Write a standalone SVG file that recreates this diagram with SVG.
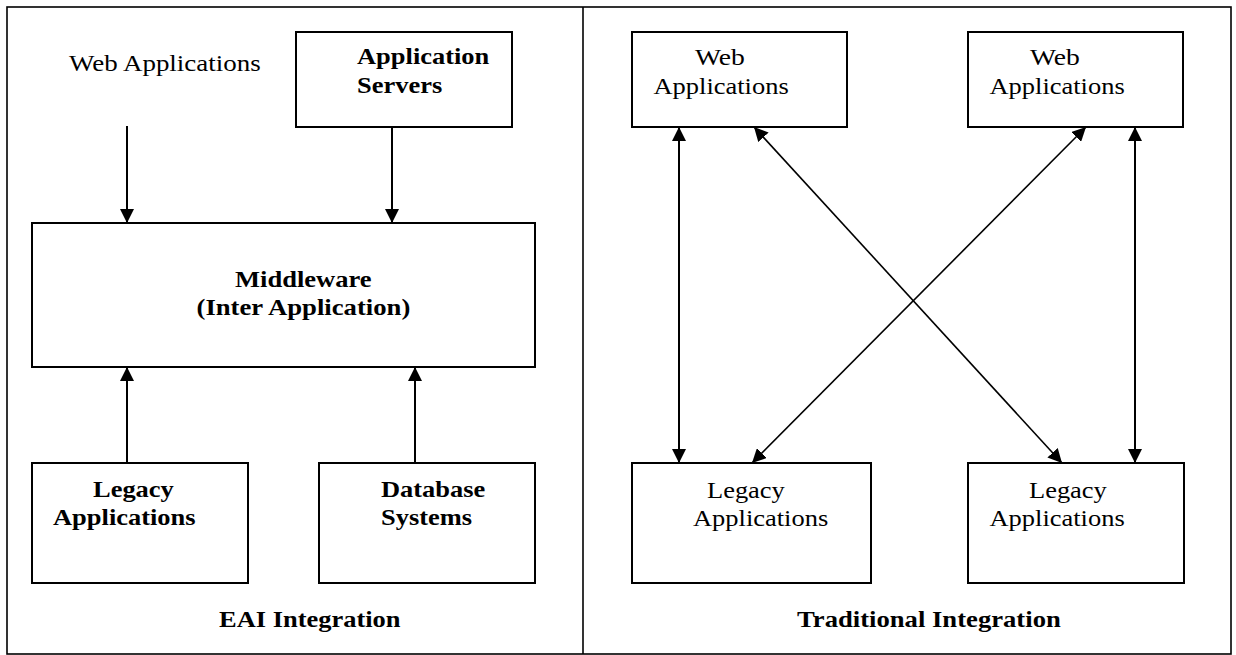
<svg xmlns="http://www.w3.org/2000/svg" width="1236" height="655" viewBox="0 0 1236 655">
<style>
.bx{fill:#fff;stroke:#000;stroke-width:2}
.fr{fill:none;stroke:#000;stroke-width:1.6}
.t{font-family:"Liberation Serif","Times New Roman",serif;font-size:23px;fill:#000}
.b{font-weight:bold}
.ln{stroke:#000;stroke-width:2;fill:none}
.dg{stroke:#000;stroke-width:1.6;fill:none}
</style>
<defs>
<marker id="ah" markerUnits="userSpaceOnUse" viewBox="0 0 14 14" markerWidth="14" markerHeight="14" refX="14" refY="7" orient="auto-start-reverse">
<path d="M0,0 L14,7 L0,14 Z" fill="#000"/>
</marker>
</defs>
<rect width="1236" height="655" fill="#fff"/>
<g id="frame">
<rect class="fr" x="7" y="7" width="1224" height="647"/>
<line class="fr" x1="583" y1="7" x2="583" y2="654"/>
</g>
<g id="connectors">
<line class="ln" x1="127" y1="126" x2="127" y2="223" marker-end="url(#ah)"/>
<line class="ln" x1="392" y1="127" x2="392" y2="223" marker-end="url(#ah)"/>
<line class="ln" x1="127" y1="463" x2="127" y2="367" marker-end="url(#ah)"/>
<line class="ln" x1="415" y1="463" x2="415" y2="367" marker-end="url(#ah)"/>
<line class="ln" x1="679" y1="127" x2="679" y2="463" marker-start="url(#ah)" marker-end="url(#ah)"/>
<line class="ln" x1="1135" y1="127" x2="1135" y2="463" marker-start="url(#ah)" marker-end="url(#ah)"/>
<line class="dg" x1="754" y1="127" x2="1062" y2="463" marker-start="url(#ah)" marker-end="url(#ah)"/>
<line class="dg" x1="1086" y1="127" x2="752" y2="463" marker-start="url(#ah)" marker-end="url(#ah)"/>
</g>
<g id="web-apps-label">
<text class="t" x="69" y="71" textLength="191.7" lengthAdjust="spacingAndGlyphs">Web Applications</text>
</g>
<g id="app-servers">
<rect class="bx" x="296" y="32" width="216" height="95"/>
<text class="t b" x="357" y="64" textLength="132.3" lengthAdjust="spacingAndGlyphs">Application</text>
<text class="t b" x="357" y="93" textLength="85.2" lengthAdjust="spacingAndGlyphs">Servers</text>
</g>
<g id="middleware">
<rect class="bx" x="32" y="223" width="503" height="144"/>
<text class="t b" x="235" y="287" textLength="136.6" lengthAdjust="spacingAndGlyphs">Middleware</text>
<text class="t b" x="196.5" y="315" textLength="213.8" lengthAdjust="spacingAndGlyphs">(Inter Application)</text>
</g>
<g id="legacy-eai">
<rect class="bx" x="32" y="463" width="216" height="120"/>
<text class="t b" x="93" y="497" textLength="80.8" lengthAdjust="spacingAndGlyphs">Legacy</text>
<text class="t b" x="53" y="525" textLength="142.6" lengthAdjust="spacingAndGlyphs">Applications</text>
</g>
<g id="database">
<rect class="bx" x="319" y="463" width="216" height="120"/>
<text class="t b" x="381" y="497" textLength="104.3" lengthAdjust="spacingAndGlyphs">Database</text>
<text class="t b" x="381" y="525" textLength="91.1" lengthAdjust="spacingAndGlyphs">Systems</text>
</g>
<g id="eai-title">
<text class="t b" x="219" y="627" textLength="181.5" lengthAdjust="spacingAndGlyphs">EAI Integration</text>
</g>
<g id="web1">
<rect class="bx" x="632" y="32" width="215" height="95"/>
<text class="t" x="695" y="65" textLength="49.9" lengthAdjust="spacingAndGlyphs">Web</text>
<text class="t" x="653.5" y="94" textLength="135.2" lengthAdjust="spacingAndGlyphs">Applications</text>
</g>
<g id="web2">
<rect class="bx" x="968" y="32" width="215" height="95"/>
<text class="t" x="1030" y="65" textLength="49.9" lengthAdjust="spacingAndGlyphs">Web</text>
<text class="t" x="989.5" y="94" textLength="135.2" lengthAdjust="spacingAndGlyphs">Applications</text>
</g>
<g id="legacy1">
<rect class="bx" x="632" y="463" width="239" height="120"/>
<text class="t" x="707" y="498" textLength="77.8" lengthAdjust="spacingAndGlyphs">Legacy</text>
<text class="t" x="693" y="526" textLength="135.2" lengthAdjust="spacingAndGlyphs">Applications</text>
</g>
<g id="legacy2">
<rect class="bx" x="968" y="463" width="216" height="120"/>
<text class="t" x="1029" y="498" textLength="77.8" lengthAdjust="spacingAndGlyphs">Legacy</text>
<text class="t" x="989.5" y="526" textLength="135.2" lengthAdjust="spacingAndGlyphs">Applications</text>
</g>
<g id="trad-title">
<text class="t b" x="797" y="627" textLength="263.8" lengthAdjust="spacingAndGlyphs">Traditional Integration</text>
</g>
</svg>
